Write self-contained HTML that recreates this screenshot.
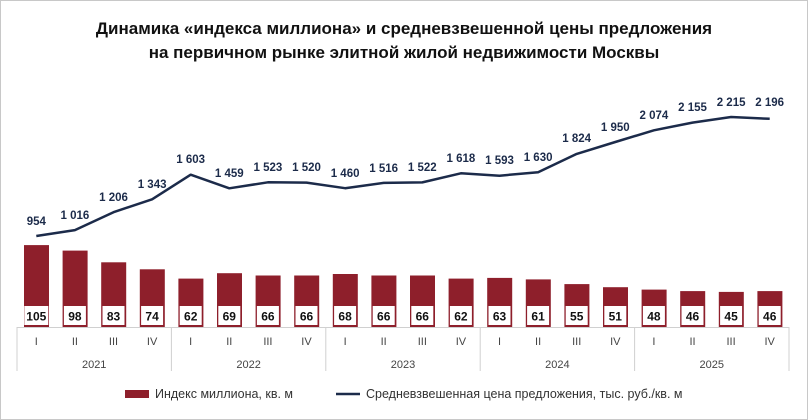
<!DOCTYPE html>
<html><head><meta charset="utf-8"><style>
html,body{margin:0;padding:0;background:#fff}
svg{display:block;font-family:"Liberation Sans",sans-serif}
</style></head><body>
<svg width="808" height="420" viewBox="0 0 808 420" xmlns="http://www.w3.org/2000/svg">
<rect x="0.5" y="0.5" width="807" height="419" fill="#fff" stroke="#c8c8c8"/>
<g font-weight="bold" font-size="17" text-anchor="middle" fill="#111">
<text x="404" y="34">Динамика «индекса миллиона» и средневзвешенной цены предложения</text>
<text x="404" y="58">на первичном рынке элитной жилой недвижимости Москвы</text>
</g>
<g fill="#8e1f2b">
<rect x="24" y="245.1" width="25" height="81.9"/>
<rect x="62.6" y="250.6" width="25" height="76.4"/>
<rect x="101.2" y="262.3" width="25" height="64.7"/>
<rect x="139.8" y="269.3" width="25" height="57.7"/>
<rect x="178.4" y="278.6" width="25" height="48.4"/>
<rect x="217" y="273.2" width="25" height="53.8"/>
<rect x="255.6" y="275.5" width="25" height="51.5"/>
<rect x="294.2" y="275.5" width="25" height="51.5"/>
<rect x="332.8" y="274" width="25" height="53"/>
<rect x="371.4" y="275.5" width="25" height="51.5"/>
<rect x="410" y="275.5" width="25" height="51.5"/>
<rect x="448.6" y="278.6" width="25" height="48.4"/>
<rect x="487.2" y="277.9" width="25" height="49.1"/>
<rect x="525.8" y="279.4" width="25" height="47.6"/>
<rect x="564.4" y="284.1" width="25" height="42.9"/>
<rect x="603" y="287.2" width="25" height="39.8"/>
<rect x="641.6" y="289.6" width="25" height="37.4"/>
<rect x="680.2" y="291.1" width="25" height="35.9"/>
<rect x="718.8" y="291.9" width="25" height="35.1"/>
<rect x="757.4" y="291.1" width="25" height="35.9"/>
</g>
<g fill="#fff">
<rect x="24.3" y="306" width="24" height="19"/>
<rect x="63.9" y="306" width="22" height="19"/>
<rect x="102.5" y="306" width="22" height="19"/>
<rect x="141.1" y="306" width="22" height="19"/>
<rect x="179.7" y="306" width="22" height="19"/>
<rect x="218.3" y="306" width="22" height="19"/>
<rect x="256.9" y="306" width="22" height="19"/>
<rect x="295.5" y="306" width="22" height="19"/>
<rect x="334.1" y="306" width="22" height="19"/>
<rect x="372.7" y="306" width="22" height="19"/>
<rect x="411.3" y="306" width="22" height="19"/>
<rect x="449.9" y="306" width="22" height="19"/>
<rect x="488.5" y="306" width="22" height="19"/>
<rect x="527.1" y="306" width="22" height="19"/>
<rect x="565.7" y="306" width="22" height="19"/>
<rect x="604.3" y="306" width="22" height="19"/>
<rect x="642.9" y="306" width="22" height="19"/>
<rect x="681.5" y="306" width="22" height="19"/>
<rect x="720.1" y="306" width="22" height="19"/>
<rect x="758.7" y="306" width="22" height="19"/>
</g>
<g font-weight="bold" font-size="12" text-anchor="middle" fill="#111">
<text x="36.3" y="320.5">105</text><text x="74.9" y="320.5">98</text><text x="113.5" y="320.5">83</text><text x="152.1" y="320.5">74</text>
<text x="190.7" y="320.5">62</text><text x="229.3" y="320.5">69</text><text x="267.9" y="320.5">66</text><text x="306.5" y="320.5">66</text>
<text x="345.1" y="320.5">68</text><text x="383.7" y="320.5">66</text><text x="422.3" y="320.5">66</text><text x="460.9" y="320.5">62</text>
<text x="499.5" y="320.5">63</text><text x="538.1" y="320.5">61</text><text x="576.7" y="320.5">55</text><text x="615.3" y="320.5">51</text>
<text x="653.9" y="320.5">48</text><text x="692.5" y="320.5">46</text><text x="731.1" y="320.5">45</text><text x="769.7" y="320.5">46</text>
</g>
<g stroke="#d0d0d0" stroke-width="1">
<line x1="17" y1="327.5" x2="789" y2="327.5"/>
<line x1="17" y1="327" x2="17" y2="371"/>
<line x1="171.4" y1="327" x2="171.4" y2="371"/>
<line x1="325.8" y1="327" x2="325.8" y2="371"/>
<line x1="480.2" y1="327" x2="480.2" y2="371"/>
<line x1="634.6" y1="327" x2="634.6" y2="371"/>
<line x1="789" y1="327" x2="789" y2="371"/>
</g>
<g font-size="11" text-anchor="middle" fill="#444">
<text x="36.3" y="345">I</text><text x="74.9" y="345">II</text><text x="113.5" y="345">III</text><text x="152.1" y="345">IV</text>
<text x="190.7" y="345">I</text><text x="229.3" y="345">II</text><text x="267.9" y="345">III</text><text x="306.5" y="345">IV</text>
<text x="345.1" y="345">I</text><text x="383.7" y="345">II</text><text x="422.3" y="345">III</text><text x="460.9" y="345">IV</text>
<text x="499.5" y="345">I</text><text x="538.1" y="345">II</text><text x="576.7" y="345">III</text><text x="615.3" y="345">IV</text>
<text x="653.9" y="345">I</text><text x="692.5" y="345">II</text><text x="731.1" y="345">III</text><text x="769.7" y="345">IV</text>
<text x="94.2" y="368">2021</text><text x="248.6" y="368">2022</text><text x="403" y="368">2023</text><text x="557.4" y="368">2024</text><text x="711.8" y="368">2025</text>
</g>
<polyline fill="none" stroke="#1c2b4a" stroke-width="2.5" stroke-linejoin="round" points="36.3,236 74.9,230.1 113.5,212.2 152.1,199.3 190.7,174.7 229.3,188.3 267.9,182.3 306.5,182.6 345.1,188.2 383.7,182.9 422.3,182.4 460.9,173.3 499.5,175.7 538.1,172.2 576.7,153.9 615.3,142 653.9,130.3 692.5,122.6 731.1,117 769.7,118.8"/>
<g font-weight="bold" font-size="11.5" text-anchor="middle" fill="#1c2b4a">
<text x="36.3" y="225">954</text><text x="74.9" y="219">1 016</text><text x="113.5" y="201">1 206</text><text x="152.1" y="188">1 343</text>
<text x="190.7" y="163">1 603</text><text x="229.3" y="177">1 459</text><text x="267.9" y="171">1 523</text><text x="306.5" y="171">1 520</text>
<text x="345.1" y="177">1 460</text><text x="383.7" y="172">1 516</text><text x="422.3" y="171">1 522</text><text x="460.9" y="162">1 618</text>
<text x="499.5" y="164">1 593</text><text x="538.1" y="161">1 630</text><text x="576.7" y="142">1 824</text><text x="615.3" y="131">1 950</text>
<text x="653.9" y="119">2 074</text><text x="692.5" y="111">2 155</text><text x="731.1" y="106">2 215</text><text x="769.7" y="106">2 196</text>
</g>
<rect x="125" y="390" width="24" height="8" fill="#8e1f2b"/>
<text x="155" y="398" font-size="12.5" fill="#333">Индекс миллиона, кв. м</text>
<line x1="336" y1="394" x2="360" y2="394" stroke="#1c2b4a" stroke-width="2.5"/>
<text x="366" y="398" font-size="12.5" fill="#333">Средневзвешенная цена предложения, тыс. руб./кв. м</text>
</svg>
</body></html>
